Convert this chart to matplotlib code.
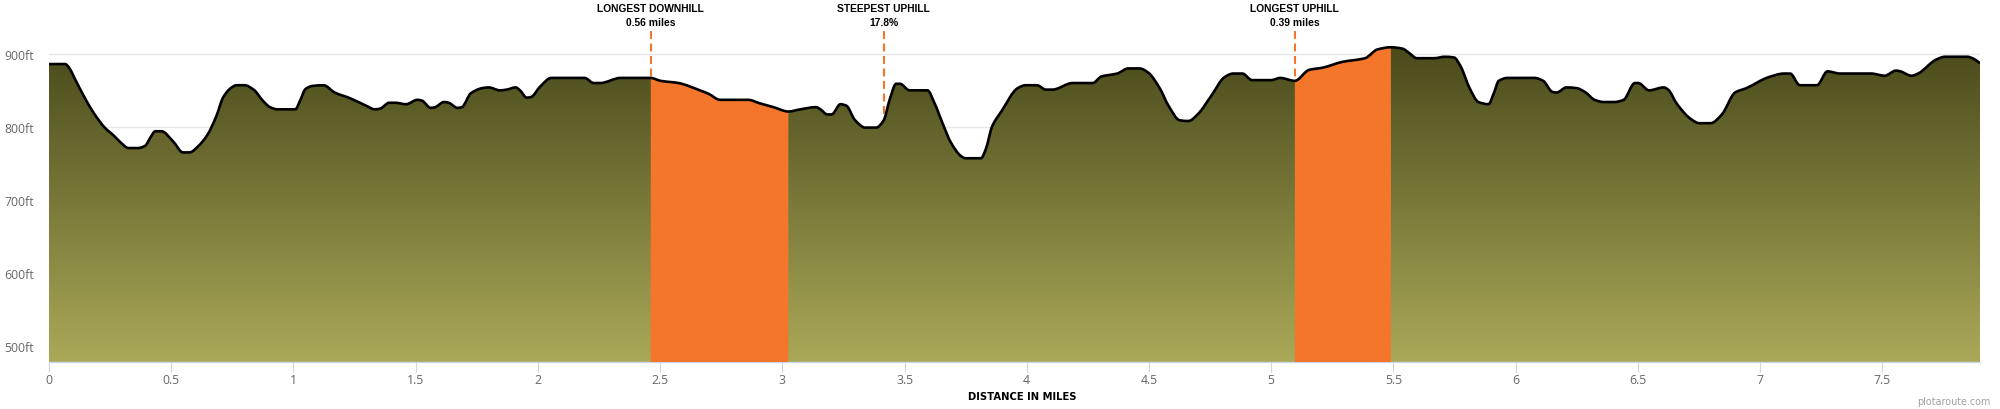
import numpy as np
import matplotlib
matplotlib.use("Agg")
import matplotlib.pyplot as plt
from matplotlib.colors import LinearSegmentedColormap
from matplotlib.patches import PathPatch
from matplotlib.path import Path

miles = [0, .066, .082, .110, .146, .183, .228, .265, .292, .325, .365, .393, .416, .435, .460, .508, .548, .575, .612, .648,
         .685, .712, .740, .767, .800, .837, .877, .904, .935, 1.008, 1.026, 1.050, 1.078, 1.123, 1.169, 1.233, 1.297, 1.333,
         1.355, 1.392, 1.416, 1.461, 1.507, 1.525, 1.562, 1.580, 1.616, 1.635, 1.671, 1.689, 1.726, 1.772, 1.799, 1.845, 1.872,
         1.909, 1.927, 1.954, 1.973, 2.009, 2.055, 2.082, 2.192, 2.228, 2.256, 2.338, 2.462, 2.502, 2.575, 2.663, 2.700, 2.745,
         2.860, 2.910, 2.964, 3.025, 3.074, 3.138, 3.156, 3.184, 3.202, 3.238, 3.262, 3.298, 3.339, 3.384, 3.415, 3.439, 3.466,
         3.481, 3.521, 3.594, 3.622, 3.658, 3.689, 3.731, 3.749, 3.813, 3.832, 3.859, 3.896, 3.963, 3.996, 4.042, 4.078, 4.105,
         4.188, 4.270, 4.306, 4.370, 4.416, 4.462, 4.498, 4.544, 4.580, 4.626, 4.662, 4.699, 4.754, 4.809, 4.845, 4.882, 4.922,
         5.000, 5.037, 5.097, 5.155, 5.210, 5.292, 5.384, 5.435, 5.490, 5.538, 5.565, 5.596, 5.666, 5.711, 5.748, 5.775, 5.812,
         5.848, 5.889, 5.912, 5.931, 5.967, 6.077, 6.113, 6.150, 6.168, 6.208, 6.250, 6.287, 6.323, 6.360, 6.405, 6.442, 6.488,
         6.502, 6.546, 6.606, 6.624, 6.661, 6.716, 6.752, 6.798, 6.844, 6.898, 6.944, 7.035, 7.099, 7.123, 7.163, 7.233, 7.276,
         7.327, 7.455, 7.510, 7.556, 7.574, 7.620, 7.647, 7.720, 7.757, 7.848, 7.875, 7.900]
elevation = [886, 886, 881, 863, 840, 819, 799, 788, 779, 771, 771, 774, 786, 794, 794, 780, 765, 765, 774, 789,
             815, 840, 852, 857, 857, 851, 835, 827, 824, 824, 835, 852, 856, 857, 847, 839, 829, 824,
             825, 833, 833, 831, 837, 836, 826, 827, 834, 833, 826, 827, 846, 853, 854, 850, 851,
             854, 850, 840, 841, 855, 867, 867, 867, 860, 860, 867, 867, 863, 860, 850, 845, 837,
             837, 832, 827, 821, 824, 827, 824, 817, 817, 831, 829, 809, 799, 799, 809, 837, 859,
             859, 850, 850, 833, 803, 779, 760, 757, 757, 769, 801, 821, 853, 857, 857, 851, 851,
             860, 860, 869, 873, 880, 880, 874, 853, 829, 809, 808, 817, 842, 868, 873, 873, 864,
             864, 867, 863, 878, 881, 889, 894, 906, 909, 907, 901, 894, 894, 896, 895, 883, 853,
             834, 831, 847, 863, 867, 867, 863, 848, 847, 854, 853, 847, 837, 834, 834, 837, 860,
             860, 850, 854, 851, 831, 811, 805, 805, 817, 847, 853, 868, 873, 873, 857, 857, 876,
             873, 873, 870, 877, 876, 870, 873, 892, 896, 896, 893, 887]

highlight_ranges = [(2.462, 3.025), (5.097, 5.490)]
callout_miles = [2.462, 3.415, 5.097]
callout_titles = ["LONGEST DOWNHILL", "STEEPEST UPHILL", "LONGEST UPHILL"]
callout_values = ["0.56 miles", "17.8%", "0.39 miles"]
x_ticks = [0, 0.5, 1, 1.5, 2, 2.5, 3, 3.5, 4, 4.5, 5, 5.5, 6, 6.5, 7, 7.5]
x_tick_labels = ["0", "0.5", "1", "1.5", "2", "2.5", "3", "3.5", "4", "4.5", "5", "5.5", "6", "6.5", "7", "7.5"]
y_ticks = [500, 600, 700, 800, 900]
y_tick_labels = ["500ft", "600ft", "700ft", "800ft", "900ft"]


def smooth_segments(px, py):
    """Bezier path pieces through the given points, no overshoot between them."""
    h = np.diff(px)
    d = np.diff(py) / h
    m = np.zeros_like(px, dtype=float)
    same_dir = d[:-1] * d[1:] > 0
    m[1:-1][same_dir] = (2 * d[:-1] * d[1:] / (d[:-1] + d[1:]))[same_dir]
    m[0], m[-1] = d[0], d[-1]
    verts, codes = [(px[0], py[0])], [Path.MOVETO]
    for i in range(len(px) - 1):
        verts += [(px[i] + h[i] / 3, py[i] + m[i] * h[i] / 3),
                  (px[i + 1] - h[i] / 3, py[i + 1] - m[i + 1] * h[i] / 3),
                  (px[i + 1], py[i + 1])]
        codes += [Path.CURVE4] * 3
    return verts, codes


def area_path(px, py, base):
    verts, codes = smooth_segments(px, py)
    verts += [(px[-1], base), (px[0], base), (px[0], py[0])]
    codes += [Path.LINETO, Path.LINETO, Path.CLOSEPOLY]
    return Path(verts, codes)


W, H = 2000, 410
fig = plt.figure(figsize=(W / 100, H / 100), dpi=100)
ax = fig.add_axes([49 / W, (H - 363) / H, (1980 - 49) / W, 333 / H])

for s in ["top", "left", "right"]:
    ax.spines[s].set_visible(False)
ax.spines["bottom"].set_color("#ccd6eb")
ax.spines["bottom"].set_linewidth(1.0)
ax.set_axisbelow(True)
ax.yaxis.grid(True, color="#e6e6e6", lw=1.0)
ax.xaxis.grid(False)

ax.set_xticks(x_ticks, x_tick_labels, fontfamily="Open Sans", fontsize=8.8, color="#666666")
ax.set_yticks(y_ticks, y_tick_labels, fontfamily="Open Sans", fontsize=8.8, color="#666666")
ax.tick_params(axis="x", length=7, width=0.8, color="#ccd6eb", pad=1)
ax.tick_params(axis="y", length=0, pad=10.8)

x = np.array(miles, dtype=float)
y = np.array(elevation, dtype=float)
base = 478
patch = PathPatch(area_path(x, y, base), fc="none", ec="none", transform=ax.transData)
ax.add_patch(patch)
cmap = LinearSegmentedColormap.from_list("terrain", ["#4a4a1c", "#aaa958"])
grad = np.linspace(0, 1, 256).reshape(-1, 1)
im = ax.imshow(grad, cmap=cmap, aspect="auto", extent=(0, 7.9, base, y.max()), origin="upper", zorder=2)
im.set_clip_path(patch)
ax.set_xlim(0, 7.9)
ax.set_ylim(478, 934)

for a, b in highlight_ranges:
    m = (x >= a) & (x <= b)
    ax.add_patch(PathPatch(area_path(x[m], y[m], base), fc="#f4762b", ec="none", lw=0, zorder=3))

lv, lc = smooth_segments(x, y)
ax.add_patch(PathPatch(Path(lv, lc), fc="none", ec="#000000", lw=1.9, joinstyle="round", zorder=4))

for mx, t, v in zip(callout_miles, callout_titles, callout_values):
    top = 931
    ey = np.interp(mx, x, y)
    ax.plot([mx, mx], [top, ey], color="#f4762b", lw=1.5, dashes=(3.8, 2.2), clip_on=False, zorder=3.5)
    tr = ax.get_xaxis_transform()
    ax.text(mx, (363 - 8.5) / 333, t, transform=tr, ha="center", va="center", fontsize=7.4,
            fontfamily="Liberation Sans", fontweight="bold", color="#000000", clip_on=False)
    ax.text(mx, (363 - 22.5) / 333, v, transform=tr, ha="center", va="center", fontsize=7.4,
            fontfamily="Liberation Sans", fontweight="bold", color="#000000", clip_on=False)

fig.text(1022 / W, (H - 397.5) / H, "DISTANCE IN MILES", ha="center", va="center", fontsize=7.2,
         fontfamily="DejaVu Sans", fontweight="bold", color="#000000")
fig.text(1990 / W, (H - 402) / H, "plotaroute.com", ha="right", va="center", fontsize=6.9,
         fontfamily="DejaVu Sans", color="#a0a0a0")

fig.savefig("out.png", dpi=100)
